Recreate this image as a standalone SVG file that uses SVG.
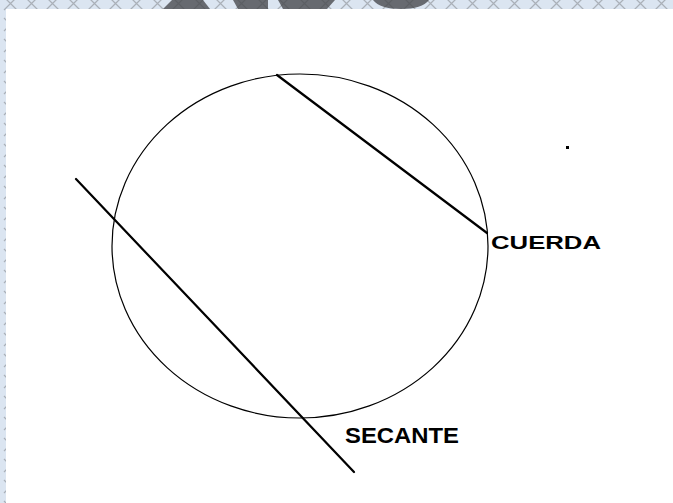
<svg xmlns="http://www.w3.org/2000/svg" width="673" height="503" viewBox="0 0 673 503">
<defs>
<pattern id="xpat" x="0" y="-7" width="21" height="21" patternUnits="userSpaceOnUse">
<rect width="21" height="21" fill="#dbe5f1"/>
<path d="M4,4 L17,17 M17,4 L4,17" stroke="#aab0b8" stroke-width="1.2" fill="none"/>
</pattern>
<pattern id="xdark" x="0" y="-7" width="21" height="21" patternUnits="userSpaceOnUse">
<rect width="21" height="21" fill="#676a70"/>
<path d="M4,4 L17,17 M17,4 L4,17" stroke="#5c5f64" stroke-width="1.2" fill="none"/>
</pattern>
<style>
.geo{fill:none;stroke:#000;stroke-linecap:round}
.lbl{font-family:"Liberation Sans",Arial,sans-serif;font-weight:bold;fill:#000}
</style>
</defs>
<rect width="673" height="503" fill="url(#xpat)"/>
<g id="header-shapes" fill="url(#xdark)">
<polygon points="172,0 203,0 210,9 163,9"/>
<polygon points="233,0 268,0 268,9 238,9"/>
<polygon points="278,0 335,0 327,9 283,9"/>
<path d="M373,0 L429,0 Q422,9 401,9 Q380,9 373,0 Z"/>
</g>
<rect x="6" y="9" width="667" height="494" fill="#fff"/>
<g id="circle"><ellipse class="geo" cx="300" cy="246" rx="188" ry="172" stroke-width="1.2"/></g>
<g id="connectors">
<line id="cuerda-line" class="geo" x1="277" y1="75" x2="487" y2="233" stroke-width="2.2"/>
<line id="secante-line" class="geo" x1="76" y1="179" x2="354" y2="472" stroke-width="2.2"/>
</g>
<g id="cuerda-label"><text class="lbl" x="491" y="249" font-size="19" textLength="110" lengthAdjust="spacingAndGlyphs">CUERDA</text></g>
<g id="secante-label"><text class="lbl" x="345" y="443" font-size="22" textLength="114" lengthAdjust="spacingAndGlyphs">SECANTE</text></g>
<g id="dot"><rect x="566" y="146" width="3" height="3" fill="#000"/></g>
</svg>
